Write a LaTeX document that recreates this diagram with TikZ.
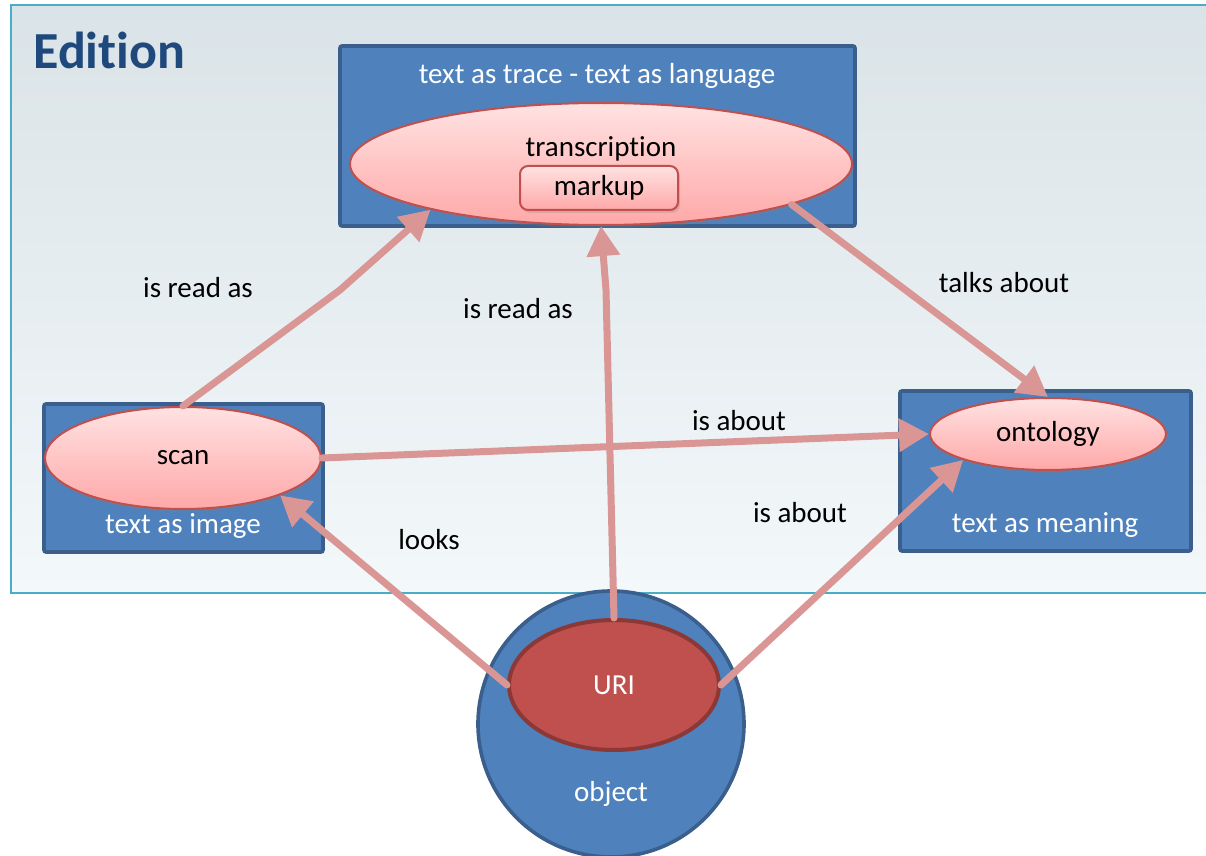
\documentclass[tikz,border=0pt]{standalone}
\usepackage{fontspec}
\setmainfont{Carlito}[Ligatures={NoCommon,NoRare,NoContextual}]
\usetikzlibrary{shapes.geometric,arrows.meta,shadows}
\definecolor{boxblue}{HTML}{4F81BD}
\definecolor{boxline}{HTML}{3A5F8C}
\definecolor{ovalline}{HTML}{C0504D}
\definecolor{ovaltop}{HTML}{FFE2E2}
\definecolor{ovalbot}{HTML}{FFA8A8}
\definecolor{urifill}{HTML}{C0504D}
\definecolor{uriline}{HTML}{8C3836}
\definecolor{linkpink}{HTML}{D99694}
\definecolor{frameline}{HTML}{4BACC6}
\definecolor{frametop}{HTML}{DAE3E7}
\definecolor{framemid}{HTML}{C4DDE5}
\definecolor{framebot}{HTML}{F3F8FA}
\definecolor{titleblue}{HTML}{1F497D}
\tikzset{
  bluebox/.style={rectangle, draw=boxline, line width=1.8pt, fill=boxblue, rounded corners=1pt, inner sep=0pt},
  pinkoval/.style={ellipse, draw=ovalline, line width=1pt, top color=ovaltop, bottom color=ovalbot, inner sep=0pt,
    drop shadow={opacity=0.25, shadow xshift=1pt, shadow yshift=-1.5pt}},
  link/.style={draw=linkpink, line width=3.5pt, line cap=round, line join=round, -{Triangle[length=15pt,width=16pt]}},
  lbl/.style={font=\fontsize{14.5}{17}\selectfont, inner sep=1pt},
  wlbl/.style={lbl, text=white},
}
\begin{document}
\begin{tikzpicture}[x=0.5pt,y=-0.5pt]
                \useasboundingbox (0,0) rectangle (1206,856);%

                % Drawing the edition frame
                \shade [top color=frametop, middle color=framemid, bottom color=framebot] (11,5) rectangle (1230,593);%
                \draw [frameline, line width=1pt] (11,5) rectangle (1230,593);%
                \node (title) [anchor=west, text=titleblue, font=\fontsize{26}{30}\selectfont\bfseries, inner sep=0pt] at (33,50) {Edition};%

                % Drawing box text as trace
                \node (tracebox) [bluebox, minimum width=257.5pt, minimum height=90pt] at (597.5,136) {};%
                \node (tracetext) [wlbl] at (597,76) {text as trace - text as language};%
                \node (trans) [pinkoval, minimum width=251pt, minimum height=61pt] at (601,164) {};%
                \node (transtext) [lbl] at (601,149) {transcription};%
                \node (markup) [rectangle, rounded corners=4pt, draw=ovalline, line width=1pt, top color=ovaltop, bottom color=ovalbot,
                  minimum width=79pt, minimum height=22pt, lbl, drop shadow={opacity=0.25, shadow xshift=1pt, shadow yshift=-1.5pt}] at (599,188) {markup};%

                % Drawing box text as image
                \node (imagebox) [bluebox, minimum width=139.5pt, minimum height=74pt] at (183.5,478) {};%
                \node (scan) [pinkoval, lbl, minimum width=138pt, minimum height=51pt] at (183,458) {scan};%
                \node (imagetext) [wlbl] at (183,526) {text as image};%

                % Drawing box text as meaning
                \node (meaningbox) [bluebox, minimum width=145.5pt, minimum height=80pt] at (1045.5,471) {};%
                \node (ontology) [pinkoval, lbl, minimum width=118pt, minimum height=36pt] at (1048,434) {ontology};%
                \node (meaningtext) [wlbl] at (1045,525) {text as meaning};%

                % Drawing object and URI
                \node (object) [circle, draw=boxline, line width=1.8pt, fill=boxblue, minimum size=133pt, inner sep=0pt] at (611,724) {};%
                \node (objtext) [wlbl] at (611,794) {object};%
                \node (uri) [ellipse, draw=uriline, line width=2pt, fill=urifill, minimum width=105pt, minimum height=65pt, wlbl] at (614,685) {URI};%

                % Drawing the links
                \coordinate (bendA) at (340,290);%
                \coordinate (bendB) at (606,290);%
                \draw [link] (scan.north) -- (bendA) -- (trans.195);%
                \draw [link] (uri.north) -- (bendB) -- (trans.south);%
                \draw [link] (trans.348) -- (ontology.north);%
                \draw [link] (scan.east) -- (ontology.west);%
                \draw [link] (uri.west) -- (scan.339);%
                \draw [link] (uri.east) -- (ontology.197);%

                % Marking link labels
                \node (readA) [lbl] at (198,288) {is read as};%
                \node (readB) [lbl] at (518,309) {is read as};%
                \node (talks) [lbl] at (1004,283) {talks about};%
                \node (aboutA) [lbl] at (739,421) {is about};%
                \node (looks) [lbl] at (429,540) {looks};%
                \node (aboutB) [lbl] at (800,513) {is about};%
\end{tikzpicture}
\end{document}
